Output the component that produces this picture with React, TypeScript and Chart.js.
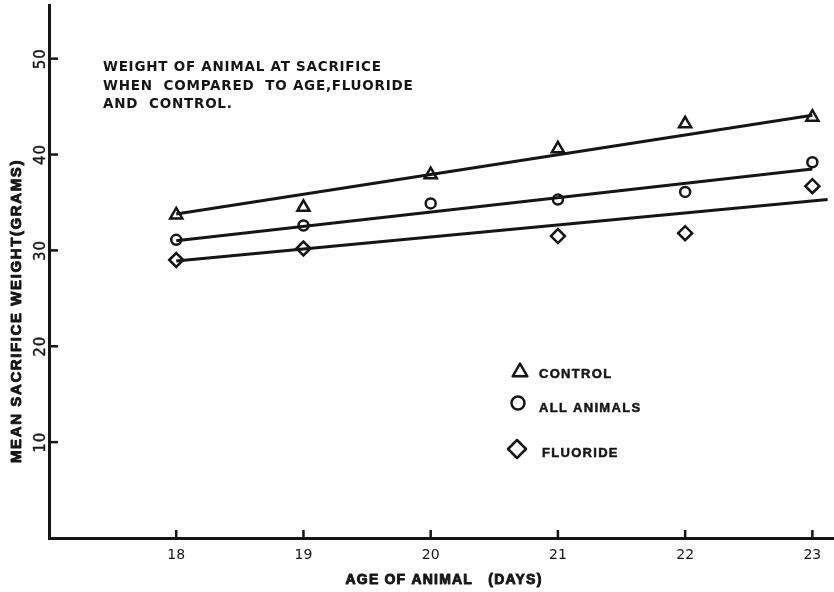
import React, { useEffect, useRef } from "react";
import { Chart, registerables } from "chart.js";
import { drawPoint } from "chart.js/helpers";

Chart.register(...registerables);

// Age of animal (days)
const ages = [18, 19, 20, 21, 22, 23];
// Mean sacrifice weight (grams)
const controlWeights: (number | null)[] = [33.7, 34.5, 37.9, 40.6, 43.2, 43.9];
const allAnimalWeights: (number | null)[] = [31.1, 32.6, 34.9, 35.3, 36.1, 39.2];
const fluorideWeights: (number | null)[] = [29.0, 30.2, null, 31.5, 31.8, 36.7];

// Fitted straight lines (end points)
const controlFitX = [18, 23];
const controlFitY = [33.8, 44.1];
const allFitX = [18, 23];
const allFitY = [31.0, 38.5];
const fluorideFitX = [18, 23.12];
const fluorideFitY = [28.9, 35.3];

const xTicks = [18, 19, 20, 21, 22, 23];
const yTicks = [10, 20, 30, 40, 50];

const seriesNames = ["CONTROL", "ALL ANIMALS", "FLUORIDE"];
const noteLines = [
  "WEIGHT OF ANIMAL AT SACRIFICE",
  "WHEN  COMPARED  TO AGE,FLUORIDE",
  "AND  CONTROL.",
];
const xTitle = "AGE OF ANIMAL   (DAYS)";
const yTitle = "MEAN SACRIFICE WEIGHT(GRAMS)";

const INK = "#151515";

const toPoints = (xs: number[], ys: (number | null)[]) =>
  xs
    .map((x, i) => ({ x, y: ys[i] }))
    .filter((p) => p.y !== null) as { x: number; y: number }[];

const markerSet = (
  label: string,
  xs: number[],
  ys: (number | null)[],
  style: string,
  radius: number
) => ({
  type: "scatter" as const,
  label,
  data: toPoints(xs, ys),
  showLine: false,
  pointStyle: style,
  pointRadius: radius,
  pointBorderWidth: 2.5,
  pointBorderColor: INK,
  pointBackgroundColor: "rgba(0,0,0,0)",
  clip: false as const,
});

const fitSet = (xs: number[], ys: number[]) => ({
  type: "line" as const,
  label: "",
  data: xs.map((x, i) => ({ x, y: ys[i] })),
  borderColor: INK,
  borderWidth: 3,
  pointRadius: 0,
  fill: false,
  tension: 0,
});

// Heavy lettering: fill plus a thin outline of the same ink
const heavyText = (ctx: CanvasRenderingContext2D, text: string, x: number, y: number, weight: number) => {
  ctx.fillText(text, x, y);
  ctx.lineWidth = weight;
  ctx.strokeText(text, x, y);
};

// Inward tick marks, rotated y tick labels, axis titles, note and key
const decorations = {
  id: "decorations",
  afterDraw(chart: any) {
    const { ctx, chartArea } = chart;
    const xs = chart.scales.x;
    const ys = chart.scales.y;
    ctx.save();
    ctx.strokeStyle = INK;
    ctx.fillStyle = INK;
    ctx.lineWidth = 2.5;
    ctx.lineCap = "butt";
    ctx.lineJoin = "round";

    // tick marks pointing into the plot
    xs.ticks.forEach((t: any) => {
      const px = xs.getPixelForValue(t.value);
      ctx.beginPath();
      ctx.moveTo(px, chartArea.bottom);
      ctx.lineTo(px, chartArea.bottom - 8);
      ctx.stroke();
    });
    ys.ticks.forEach((t: any) => {
      const py = ys.getPixelForValue(t.value);
      ctx.beginPath();
      ctx.moveTo(chartArea.left, py);
      ctx.lineTo(chartArea.left + 9, py);
      ctx.stroke();
    });

    // y tick labels, reading upwards
    ctx.font = "15px 'DejaVu Sans'";
    ctx.letterSpacing = "1px";
    ctx.textAlign = "center";
    ctx.textBaseline = "middle";
    ys.ticks.forEach((t: any) => {
      const py = ys.getPixelForValue(t.value);
      ctx.save();
      ctx.translate(chartArea.left - 8, py);
      ctx.rotate(-Math.PI / 2);
      heavyText(ctx, String(t.value), 0, 0, 0.4);
      ctx.restore();
    });

    // axis titles
    ctx.font = "bold 14px 'Liberation Sans Narrow', 'Liberation Sans'";
    ctx.letterSpacing = "1.2px";
    ctx.textAlign = "center";
    ctx.textBaseline = "alphabetic";
    heavyText(ctx, xTitle, 444, 584, 0.9);
    ctx.save();
    ctx.translate(21, 311);
    ctx.rotate(-Math.PI / 2);
    ctx.font = "bold 15px 'Liberation Sans Narrow', 'Liberation Sans'";
    ctx.letterSpacing = "1.6px";
    heavyText(ctx, yTitle, 0, 0, 0.9);
    ctx.restore();

    // note in the upper left of the plot
    ctx.font = "bold 13.5px 'DejaVu Sans'";
    ctx.letterSpacing = "0.75px";
    ctx.textAlign = "left";
    noteLines.forEach((line, i) => {
      ctx.fillText(line, 103, 71 + i * 18.5);
    });

    // key
    const keyStyles = ["triangle", "circle", "rectRot"];
    const keyRadius = [8.5, 6.5, 9];
    const keyPos = [
      [520, 372, 539, 378],
      [518, 403, 539, 412],
      [517, 449, 542, 457],
    ];
    ctx.font = "bold 13px 'Liberation Sans'";
    ctx.letterSpacing = "1.3px";
    seriesNames.forEach((name, i) => {
      const [mx, my, tx, ty] = keyPos[i];
      ctx.lineWidth = 2.5;
      ctx.fillStyle = "rgba(0,0,0,0)";
      drawPoint(
        ctx,
        { pointStyle: keyStyles[i] as any, radius: keyRadius[i], rotation: 0, borderWidth: 2.5 },
        mx,
        my
      );
      ctx.fillStyle = INK;
      heavyText(ctx, name, tx, ty, 0.5);
    });
    ctx.restore();
  },
};

export default function App() {
  const canvasRef = useRef<HTMLCanvasElement | null>(null);

  useEffect(() => {
    if (!canvasRef.current) return;
    const chart = new Chart(canvasRef.current, {
      type: "scatter",
      data: {
        datasets: [
          fitSet(controlFitX, controlFitY),
          fitSet(allFitX, allFitY),
          fitSet(fluorideFitX, fluorideFitY),
          markerSet(seriesNames[0], ages, controlWeights, "triangle", 7),
          markerSet(seriesNames[1], ages, allAnimalWeights, "circle", 5),
          markerSet(seriesNames[2], ages, fluorideWeights, "rectRot", 7),
        ] as any,
      },
      options: {
        responsive: false,
        animation: false,
        layout: { autoPadding: false, padding: { top: 5, right: 0, left: 0, bottom: 0 } },
        plugins: {
          legend: { display: false },
          tooltip: { enabled: false },
        },
        scales: {
          x: {
            type: "linear",
            min: 17,
            max: 23.17,
            afterBuildTicks: (s: any) => {
              s.ticks = xTicks.map((v) => ({ value: v }));
            },
            afterFit: (s: any) => {
              s.height = 54;
            },
            grid: { display: false, drawTicks: false },
            border: { display: true, color: INK, width: 3 },
            ticks: {
              color: INK,
              padding: 9,
              font: { family: "'DejaVu Sans'", size: 14 },
              callback: (v: any) => String(v),
            },
          },
          y: {
            type: "linear",
            min: 0,
            max: 55.6,
            afterBuildTicks: (s: any) => {
              s.ticks = yTicks.map((v) => ({ value: v }));
            },
            afterFit: (s: any) => {
              s.width = 49;
            },
            grid: { display: false, drawTicks: false },
            border: { display: true, color: INK, width: 3 },
            ticks: { display: false },
          },
        },
      } as any,
      plugins: [decorations],
    });
    return () => chart.destroy();
  }, []);

  return (
    <div style={{ position: "absolute", left: 0, top: 0, width: 834, height: 592, background: "#fff" }}>
      <canvas ref={canvasRef} width={834} height={592} style={{ display: "block" }} />
    </div>
  );
}
